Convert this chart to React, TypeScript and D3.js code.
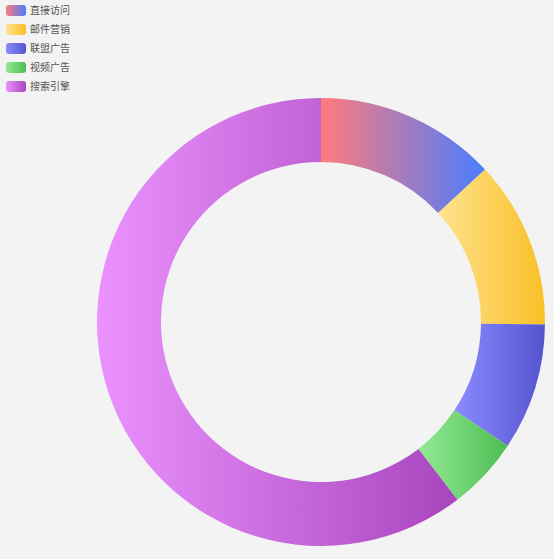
import React from "react";
import * as d3 from "d3";

const categories = ["直接访问", "邮件营销", "联盟广告", "视频广告", "搜索引擎"];
const values = [335, 310, 234, 135, 1548];
const gradStart = ["#ff7b7b", "#ffe38e", "#8b8bff", "#93ea93", "#eb92ff"];
const gradEnd = ["#4a7dff", "#f9bf26", "#5454d0", "#4cbd52", "#a845bd"];

const W = 554;
const H = 559;
const cx = 321;
const cy = 322;
const outerR = 224;
const innerR = 160;

export default function App() {
  const pie = d3.pie<number>().sort(null).value((d) => d)(values);
  const arc = d3.arc<d3.PieArcDatum<number>>().innerRadius(innerR).outerRadius(outerR);
  const legendY = d3.scaleBand<number>().domain(d3.range(categories.length)).range([1, 1 + 19 * categories.length]);

  return (
    <div style={{ position: "fixed", left: 0, top: 0, width: W, height: H }}>
      <svg width={W} height={H} style={{ display: "block", background: "#f3f3f3" }}>
        <defs>
          {categories.map((c, i) => (
            <linearGradient key={c} id={`g${i}`} x1="0" y1="0" x2="1" y2="0">
              <stop offset="0" stopColor={gradStart[i]} />
              <stop offset="1" stopColor={gradEnd[i]} />
            </linearGradient>
          ))}
        </defs>
        <g transform={`translate(${cx},${cy})`}>
          {pie.map((p, i) => (
            <path key={i} d={arc(p) || ""} fill={`url(#g${i})`} />
          ))}
        </g>
        <g>
          {categories.map((c, i) => {
            const y = (legendY(i) as number) + legendY.bandwidth() / 2;
            return (
              <g key={c} transform={`translate(6,${y})`}>
                <rect x={0} y={-5.5} width={20} height={11} rx={3} fill={`url(#g${i})`} />
                <text
                  x={24}
                  y={0}
                  dy="0.35em"
                  fontSize={10}
                  fill="#555"
                  fontFamily="'Noto Sans CJK SC', 'Noto Sans', sans-serif"
                >
                  {c}
                </text>
              </g>
            );
          })}
        </g>
      </svg>
    </div>
  );
}
